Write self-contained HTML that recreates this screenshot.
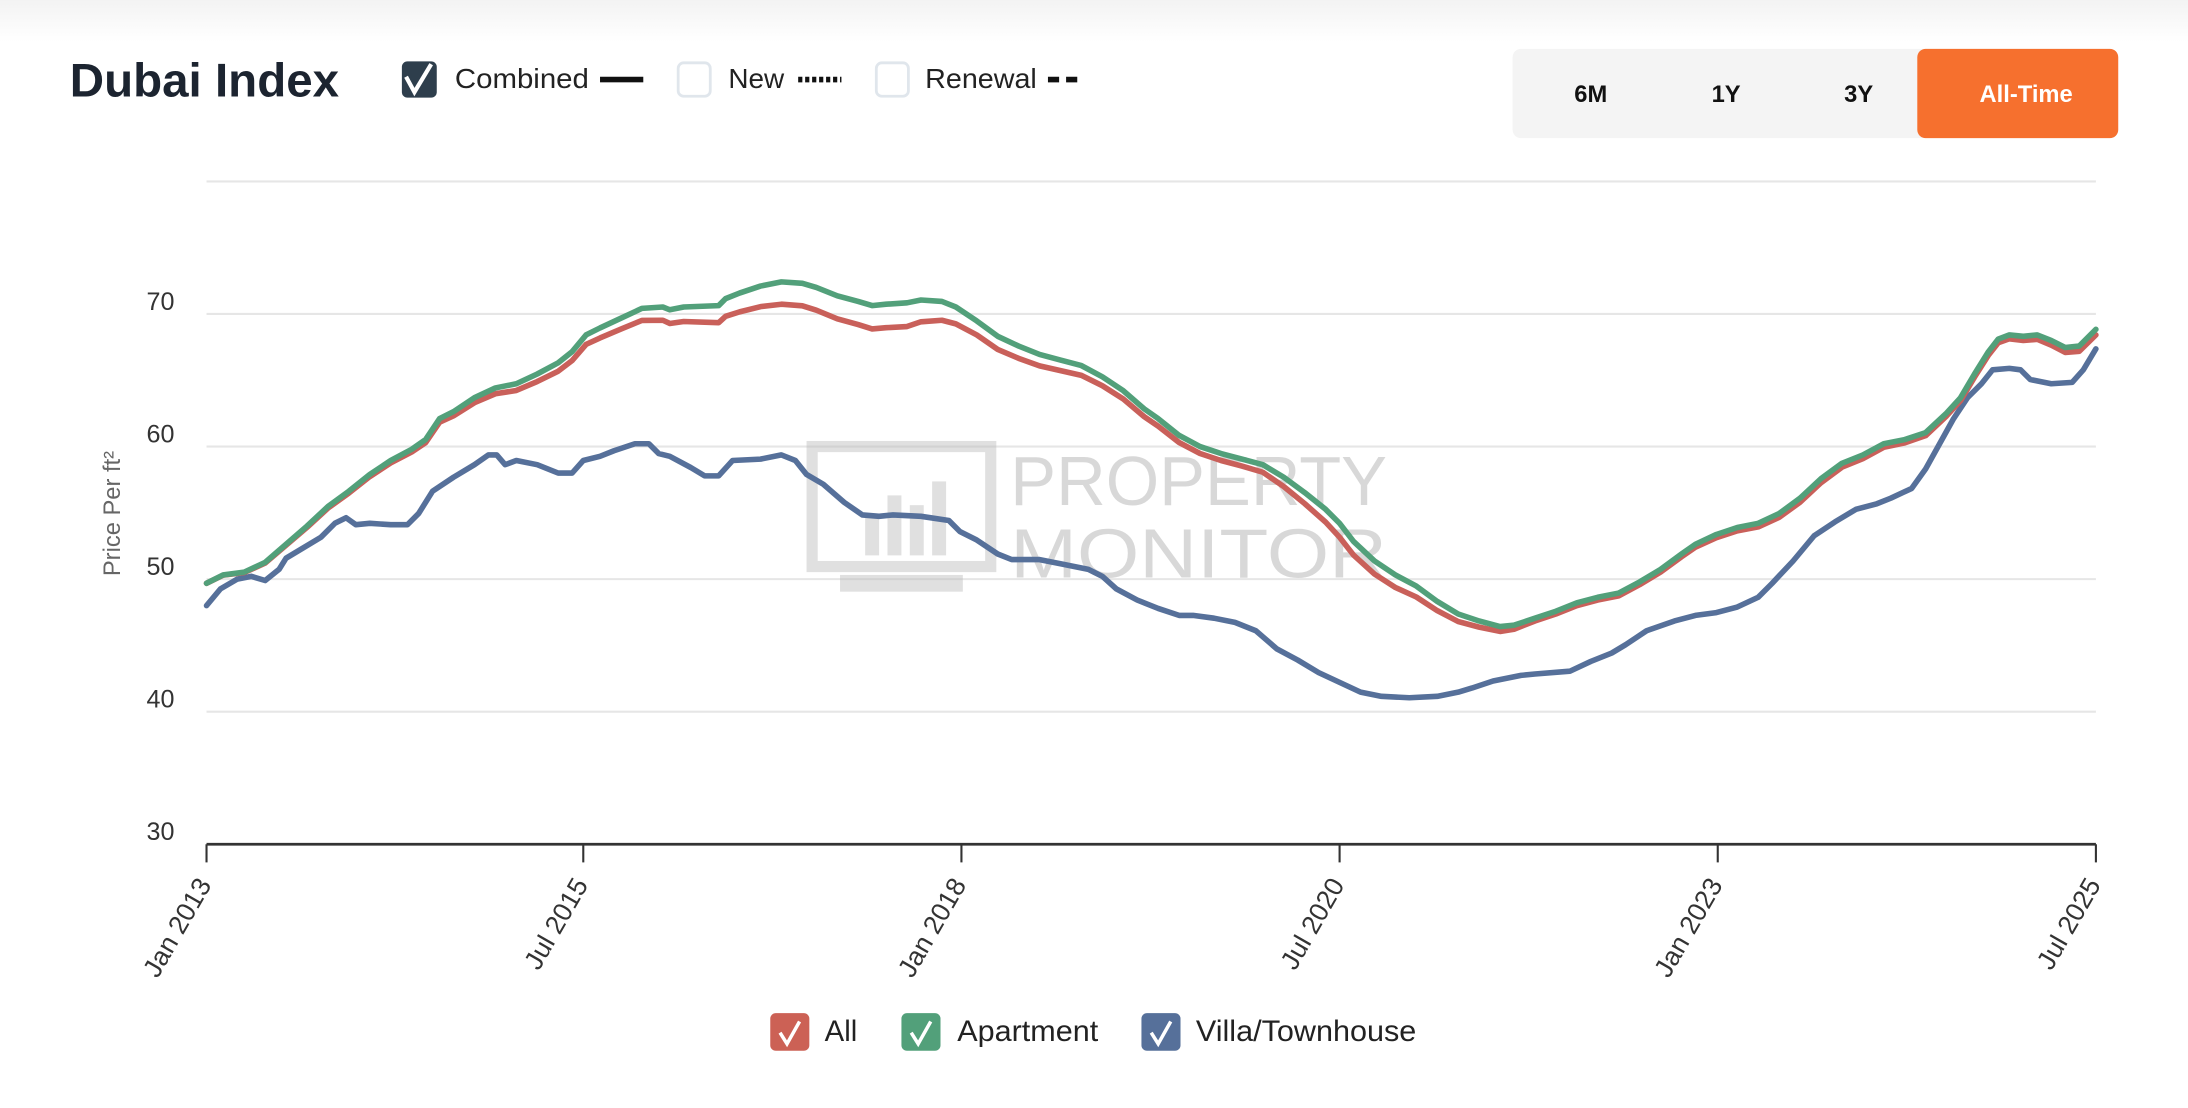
<!DOCTYPE html>
<html><head><meta charset="utf-8"><style>
html,body{margin:0;padding:0;background:#fff;}
body{width:2188px;height:1108px;overflow:hidden;}
svg{display:block;}
text{font-family:"Liberation Sans",sans-serif;}
</style></head><body>
<svg id="s" width="2188" height="1108" viewBox="0 0 1568 794" preserveAspectRatio="none">
<defs><linearGradient id="tg" x1="0" y1="0" x2="0" y2="1"><stop offset="0" stop-color="#f3f3f3"/><stop offset="1" stop-color="#fff"/></linearGradient></defs>
<rect x="0" y="0" width="1568" height="30" fill="url(#tg)"/>
<text x="50" y="69" font-size="34" font-weight="bold" fill="#1c2430" textLength="193" lengthAdjust="spacingAndGlyphs">Dubai Index</text>
<rect x="288" y="44" width="25" height="26" rx="4" fill="#2e3e4c"/>
<path d="M291 55 l6 11 l12 -20" stroke="#fff" stroke-width="3" fill="none"/>
<text x="326" y="63" font-size="20" fill="#222" textLength="96" lengthAdjust="spacingAndGlyphs">Combined</text>
<rect x="430" y="55" width="31" height="4" fill="#111"/>
<rect x="486" y="45" width="23" height="24" rx="4" fill="none" stroke="#e0e6ec" stroke-width="2"/>
<text x="522" y="63" font-size="20" fill="#222">New</text>
<path d="M572 57 h31" stroke="#111" stroke-width="4" stroke-dasharray="3,2"/>
<rect x="628" y="45" width="23" height="24" rx="4" fill="none" stroke="#e0e6ec" stroke-width="2"/>
<text x="663" y="63" font-size="20" fill="#222" textLength="80" lengthAdjust="spacingAndGlyphs">Renewal</text>
<path d="M751 57 h26" stroke="#111" stroke-width="4" stroke-dasharray="8,5"/>
<rect x="1084" y="35" width="434" height="64" rx="6" fill="#f4f4f4"/>
<rect x="1374" y="35" width="144" height="64" rx="6" fill="#f6702e"/>
<text x="1140" y="73" font-size="17" font-weight="bold" fill="#111" text-anchor="middle">6M</text>
<text x="1237" y="73" font-size="17" font-weight="bold" fill="#111" text-anchor="middle">1Y</text>
<text x="1332" y="73" font-size="17" font-weight="bold" fill="#111" text-anchor="middle">3Y</text>
<text x="1452" y="73" font-size="17" font-weight="bold" fill="#fff" text-anchor="middle">All-Time</text>
<g stroke="#e6e6e6" stroke-width="1.5">
<line x1="148" y1="130" x2="1502" y2="130"/><line x1="148" y1="225" x2="1502" y2="225"/>
<line x1="148" y1="320" x2="1502" y2="320"/><line x1="148" y1="415" x2="1502" y2="415"/>
<line x1="148" y1="510" x2="1502" y2="510"/></g>
<g font-size="18" fill="#333" text-anchor="end">
<text x="125" y="222">70</text><text x="125" y="317">60</text><text x="125" y="412">50</text>
<text x="125" y="507">40</text><text x="125" y="602">30</text></g>
<text transform="translate(86,368) rotate(-90)" font-size="17" fill="#666" text-anchor="middle">Price Per ft²</text>
<g opacity="0.45">
<rect x="582" y="320" width="128" height="86" fill="none" stroke="#bbb" stroke-width="8"/>
<rect x="602" y="412" width="88" height="12" fill="#bbb"/>
<rect x="620" y="370" width="10" height="28" fill="#bbb"/><rect x="636" y="355" width="10" height="43" fill="#bbb"/><rect x="652" y="362" width="10" height="36" fill="#bbb"/><rect x="668" y="345" width="10" height="53" fill="#bbb"/>
<text x="724" y="362" font-size="50" fill="#aaa" textLength="270" lengthAdjust="spacingAndGlyphs">PROPERTY</text>
<text x="724" y="414" font-size="50" fill="#aaa" textLength="270" lengthAdjust="spacingAndGlyphs">MONITOR</text>
</g>
<g id="lines" fill="none" stroke-width="4" stroke-linejoin="round" stroke-linecap="round"></g>
<line x1="148" y1="605" x2="1502" y2="605" stroke="#333" stroke-width="2"/>
<g stroke="#333" stroke-width="1.5">
<line x1="148" y1="605" x2="148" y2="618"/><line x1="418" y1="605" x2="418" y2="618"/><line x1="689" y1="605" x2="689" y2="618"/>
<line x1="960" y1="605" x2="960" y2="618"/><line x1="1231" y1="605" x2="1231" y2="618"/><line x1="1502" y1="605" x2="1502" y2="618"/></g>
<g font-size="19" fill="#333" text-anchor="end">
<text transform="translate(152,634) rotate(-60)">Jan 2013</text>
<text transform="translate(422,634) rotate(-60)">Jul 2015</text>
<text transform="translate(693,634) rotate(-60)">Jan 2018</text>
<text transform="translate(964,634) rotate(-60)">Jul 2020</text>
<text transform="translate(1235,634) rotate(-60)">Jan 2023</text>
<text transform="translate(1506,634) rotate(-60)">Jul 2025</text></g>
<rect x="552" y="726" width="28" height="27" rx="4" fill="#cc6155"/>
<path d="M559 740 l5 8 l9 -16" stroke="#fff" stroke-width="2.5" fill="none"/>
<text x="591" y="746" font-size="21" fill="#222">All</text>
<rect x="646" y="726" width="28" height="27" rx="4" fill="#52a07a"/>
<path d="M653 740 l5 8 l9 -16" stroke="#fff" stroke-width="2.5" fill="none"/>
<text x="686" y="746" font-size="21" fill="#222" textLength="101" lengthAdjust="spacingAndGlyphs">Apartment</text>
<rect x="818" y="726" width="28" height="27" rx="4" fill="#56709a"/>
<path d="M825 740 l5 8 l9 -16" stroke="#fff" stroke-width="2.5" fill="none"/>
<text x="857" y="746" font-size="21" fill="#222" textLength="158" lengthAdjust="spacingAndGlyphs">Villa/Townhouse</text>
</svg>
<script>
var G=[148,418,160,412,175,410,190,403,205,390,220,377,235,363,250,352,265,340,280,330,295,322,305,315,315,300,325,295,340,285,355,278,370,275,385,268,400,260,410,252,420,240,430,235,445,228,460,221,475,220,480,222,490,220,515,219,520,214,530,210,545,205,560,202,575,203,585,206,600,212,615,216,625,219,635,218,650,217,660,215,675,216,685,220,700,230,715,241,730,248,745,254,760,258,775,262,790,270,805,280,820,293,830,300,845,312,860,320,875,325,890,329,905,333,920,342,935,353,950,365,960,375,970,388,985,402,1000,412,1015,420,1030,431,1045,440,1060,445,1075,449,1085,448,1100,443,1115,438,1130,432,1145,428,1160,425,1175,417,1190,408,1205,397,1215,390,1230,383,1245,378,1260,375,1275,368,1290,357,1305,343,1320,332,1335,326,1350,318,1365,315,1380,310,1395,296,1405,285,1415,268,1425,252,1432,243,1440,240,1450,241,1460,240,1470,244,1480,249,1490,248,1502,236];
var B=[148,434,158,422,170,415,180,413,190,416,200,408,205,400,215,394,230,385,240,375,248,371,255,376,265,375,280,376,292,376,300,368,310,352,325,342,340,333,350,326,356,326,362,333,370,330,385,333,400,339,410,339,418,330,430,327,440,323,455,318,465,318,472,325,480,327,495,335,505,341,515,341,525,330,545,329,560,326,570,330,578,340,590,347,605,360,618,369,630,370,640,369,660,370,680,373,688,381,700,387,715,397,725,401,745,401,760,404,780,408,790,413,800,422,815,430,830,436,845,441,855,441,870,443,885,446,900,452,915,465,930,473,945,482,960,489,975,496,990,499,1010,500,1030,499,1045,496,1055,493,1070,488,1090,484,1100,483,1125,481,1140,474,1155,468,1165,462,1180,452,1200,445,1215,441,1230,439,1245,435,1260,428,1270,418,1285,402,1300,384,1315,374,1330,365,1345,361,1355,357,1370,350,1380,336,1390,318,1400,300,1410,285,1420,275,1428,265,1440,264,1448,265,1455,272,1470,275,1485,274,1493,265,1502,250];
var D=[148,0,300,2,400,6,450,8,500,11,560,16,650,17,700,10,750,8,800,6,850,5,900,5,960,10,1000,9,1050,5,1100,2,1200,2,1300,3,1400,2,1502,4];
function dl(x){for(var i=0;i<D.length-2;i+=2){if(x<=D[i+2]){var t=(x-D[i])/(D[i+2]-D[i]);return D[i+1]+t*(D[i+3]-D[i+1]);}}return 4;}
function path(a){var s="M"+a[0]+" "+a[1];for(var i=2;i<a.length;i+=2)s+=" L"+a[i]+" "+a[i+1];return s;}
var R=[];for(var i=0;i<G.length;i+=2){R.push(G[i],G[i+1]+dl(G[i]));}
var g=document.getElementById("lines");
[[B,"#56709a"],[R,"#c9605a"],[G,"#52a07a"]].forEach(function(p){var e=document.createElementNS("http://www.w3.org/2000/svg","path");e.setAttribute("d",path(p[0]));e.setAttribute("stroke",p[1]);g.appendChild(e);});
</script>
</body></html>
